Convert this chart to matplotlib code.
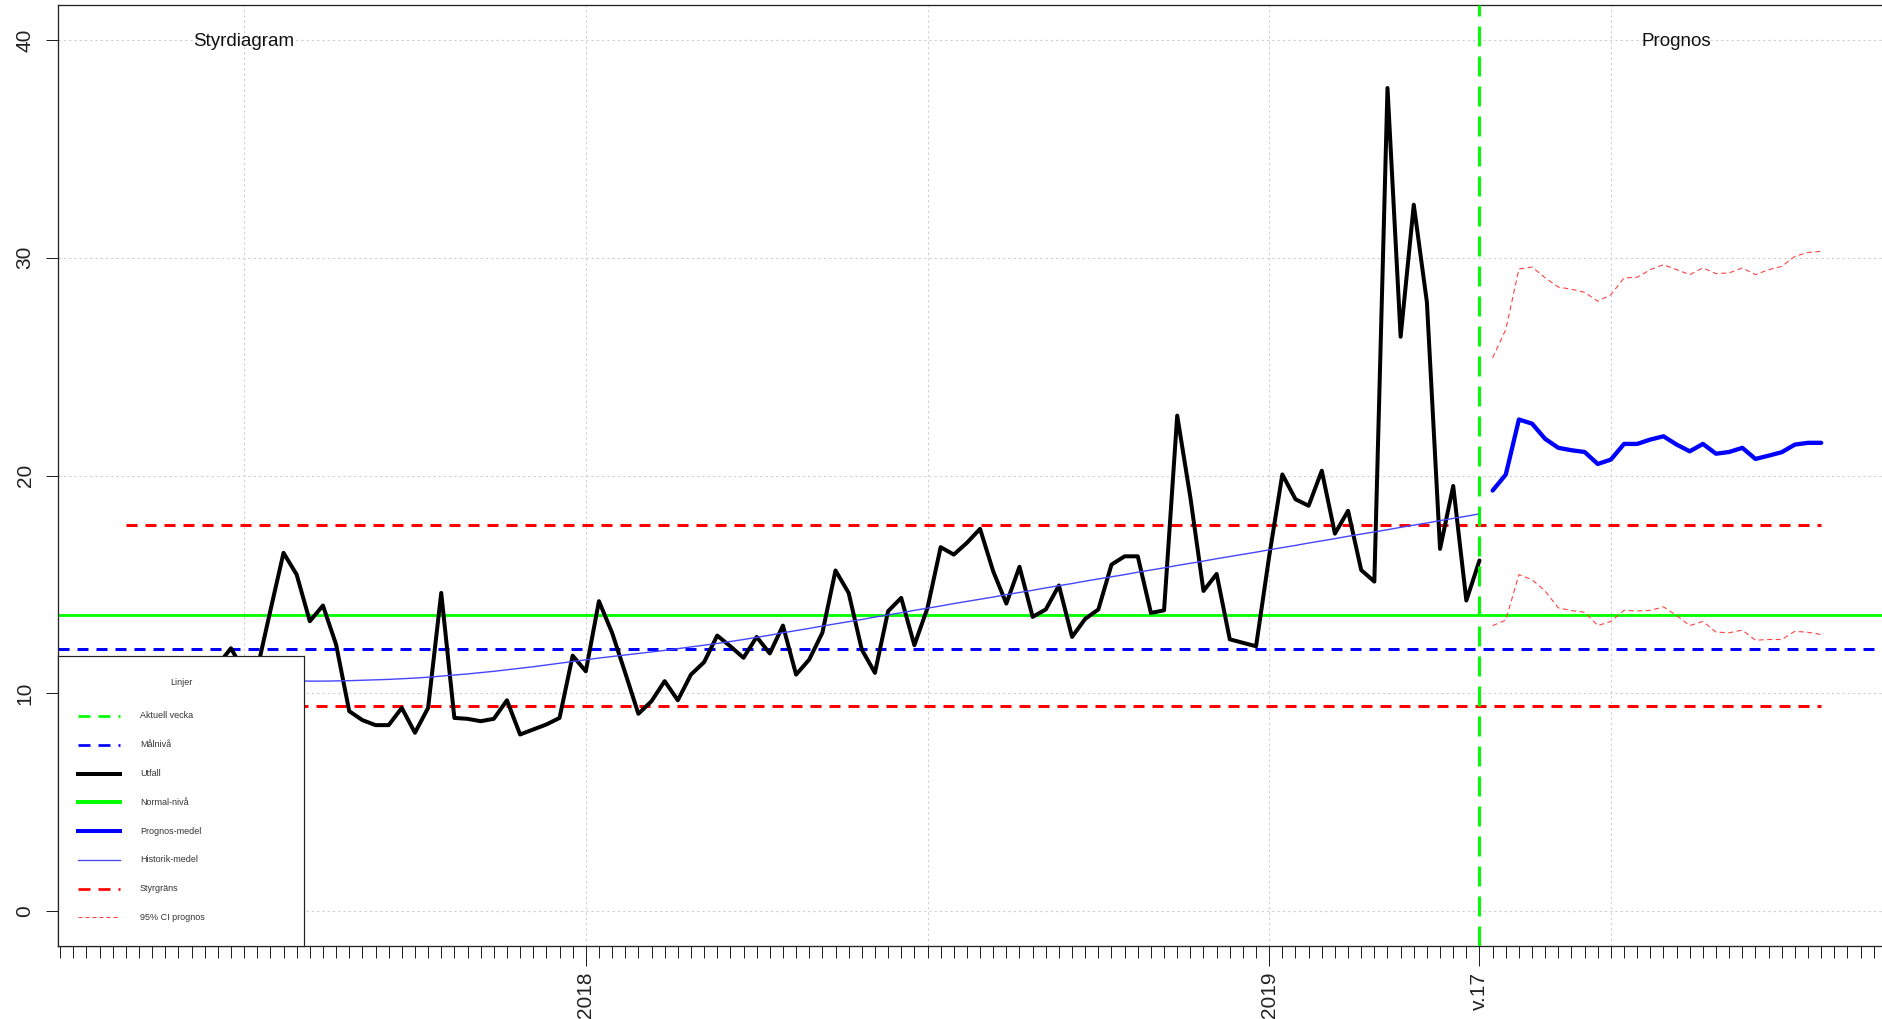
import numpy as np
import matplotlib
matplotlib.use("Agg")
import matplotlib.pyplot as plt

plt.rcParams['font.family'] = ['Liberation Sans', 'DejaVu Sans']
plt.rcParams['lines.scale_dashes'] = False

# ---------------- data (x = week index, 0 = first week of 2019) ----------------
first_week = -87
outcome = [10.6, 11.2, 10.1, 10.8, 11.4, 10.3, 10.9, 11.3, 12.07, 11.0,
           11.1, 13.8, 16.45, 15.45, 13.31, 14.03, 12.24, 9.18, 8.77, 8.54,
           8.54, 9.33, 8.19, 9.33, 14.61, 8.87, 8.83, 8.72, 8.83, 9.68,
           8.11, 8.34, 8.57, 8.87, 11.73, 11.01, 14.23, 12.78, 10.94, 9.06,
           9.64, 10.56, 9.68, 10.86, 11.43, 12.65, 12.16, 11.63, 12.59, 11.83,
           13.11, 10.86, 11.55, 12.78, 15.64, 14.61, 12.01, 10.94, 13.77, 14.38,
           12.21, 13.92, 16.71, 16.37, 16.91, 17.55, 15.60, 14.12, 15.81, 13.51,
           13.85, 14.95, 12.59, 13.42, 13.85, 15.91, 16.29, 16.29, 13.69, 13.81,
           22.75, 19.0, 14.70, 15.48, 12.48, 12.32, 12.16, 16.3, 20.05, 18.91,
           18.61, 20.22, 17.33, 18.38, 15.66, 15.13, 37.79, 26.37, 32.43, 27.95,
           16.63, 19.52, 14.26, 16.10]

hist_mean = [10.80, 10.78, 10.76, 10.74, 10.72, 10.70, 10.68, 10.66, 10.64, 10.62,
             10.60, 10.59, 10.58, 10.57,
             10.56, 10.56, 10.57, 10.58, 10.60, 10.62, 10.64, 10.67, 10.70, 10.74,
             10.79, 10.84, 10.89, 10.95, 11.01, 11.08, 11.15, 11.22, 11.30, 11.38,
             11.46, 11.54, 11.62, 11.69, 11.76, 11.83, 11.90, 11.97, 12.05, 12.13,
             12.21, 12.29, 12.38, 12.47,
             12.57, 12.67, 12.78, 12.88, 12.98, 13.09, 13.19, 13.29, 13.39, 13.50,
             13.60, 13.70, 13.81, 13.91, 14.01, 14.12, 14.22, 14.32, 14.42, 14.53,
             14.63, 14.73, 14.84, 14.94, 15.04, 15.15, 15.25, 15.35, 15.45, 15.56,
             15.66, 15.76, 15.87, 15.97, 16.07, 16.18, 16.28, 16.38, 16.48, 16.59,
             16.69, 16.79, 16.90, 17.00, 17.10, 17.21, 17.31, 17.41, 17.51, 17.62,
             17.72, 17.82, 17.93, 18.03, 18.13, 18.24]

fc_mean = [19.31, 20.04, 22.57, 22.38, 21.68, 21.27, 21.16, 21.08, 20.53, 20.73,
           21.45, 21.45, 21.65, 21.80, 21.42, 21.11, 21.45, 21.00, 21.08, 21.27,
           20.76, 20.91, 21.07, 21.42, 21.50, 21.50]
fc_upper = [25.40, 26.70, 29.48, 29.57, 29.07, 28.65, 28.55, 28.41, 28.00, 28.30,
            29.07, 29.10, 29.45, 29.68, 29.45, 29.22, 29.53, 29.27, 29.30, 29.53,
            29.22, 29.45, 29.60, 30.06, 30.24, 30.29]
fc_lower = [13.11, 13.36, 15.45, 15.22, 14.69, 13.92, 13.80, 13.72, 13.11, 13.30,
            13.81, 13.78, 13.81, 13.97, 13.57, 13.11, 13.30, 12.81, 12.78, 12.90,
            12.44, 12.47, 12.47, 12.85, 12.80, 12.70]

ctrl_upper = 17.72
ctrl_lower = 9.44
target_level = 12.05
normal_level = 13.58
current_week = 16

tick_weeks = [-52, 0, 16]
tick_labels = ["2018", "2019", "v.17"]
grid_weeks = [-78, -52, -26, 0, 26]
y_ticks = [0, 10, 20, 30, 40]
legend_title = "Linjer"
legend_labels = ["Aktuell vecka", "Målnivå", "Utfall", "Normal-nivå",
                 "Prognos-medel", "Historik-medel", "Styrgräns", "95% CI prognos"]

# ---------------- figure ----------------
W, H = 1882, 1019
P = 0.72  # points per pixel (dpi 100)

weeks = np.arange(first_week, first_week + len(outcome))
fc_weeks = np.arange(current_week + 1, current_week + 1 + len(fc_mean))

fig = plt.figure(figsize=(W / 100, H / 100), dpi=100)
ax = fig.add_axes([58 / W, (H - 946) / H, (1889 - 58) / W, (946 - 5) / H])
x_lo, x_hi = weeks[0], fc_weeks[-1]
span = x_hi - x_lo
ax.set_xlim(x_lo - 0.04 * span, x_hi + 0.04 * span)
ax.set_ylim(-1.6, 41.6)

grid_kw = dict(color='#CFCFCF', lw=0.8, dashes=(1.6, 2.2), zorder=1)
for g in grid_weeks:
    ax.axvline(g, **grid_kw)
for y in y_ticks:
    ax.axhline(y, **grid_kw)

dash_thick = (11 * P, 8 * P)
ax.plot([x_lo, x_hi], [ctrl_upper] * 2, color='#FF0000', lw=3 * P, dashes=dash_thick, zorder=2)
ax.plot([x_lo, x_hi], [ctrl_lower] * 2, color='#FF0000', lw=3 * P, dashes=dash_thick, zorder=2)
ax.axhline(target_level, color='#0000FF', lw=3 * P, dashes=dash_thick, zorder=2)
ax.axhline(normal_level, color='#00FF00', lw=2.8 * P, zorder=2)

ax.plot(weeks, outcome, color='black', lw=4 * P, solid_joinstyle='round',
        solid_capstyle='round', zorder=3)
ax.plot(weeks, hist_mean, color='#4646FF', lw=1.4 * P, zorder=4)

ax.plot(fc_weeks, fc_mean, color='#0000FF', lw=4.3 * P, solid_joinstyle='round',
        solid_capstyle='round', zorder=4)
ci_dash = (5 * P, 3.5 * P)
ax.plot(fc_weeks, fc_upper, color='#FF4040', lw=1.1 * P, dashes=ci_dash, zorder=4)
ax.plot(fc_weeks, fc_lower, color='#FF4040', lw=1.1 * P, dashes=ci_dash, zorder=4)

ax.axvline(current_week, color='#00FF00', lw=3 * P, dashes=(20 * P, 10 * P), zorder=5)

ax.text(-78, 40, "Styrdiagram", ha='center', va='center_baseline', fontsize=13.5, color='#111111')
ax.text(31, 40, "Prognos", ha='center', va='center_baseline', fontsize=13.5, color='#111111')

# axes / ticks
for s in ax.spines.values():
    s.set_linewidth(1.3 * P)
    s.set_color('#222222')
ax.set_yticks(y_ticks)
ax.set_yticklabels([str(v) for v in y_ticks], rotation=90, va='center', ha='center')
ax.tick_params(axis='y', length=12 * P, width=1 * P, pad=21 * P, labelsize=15, colors='#222222')
ax.set_xticks(tick_weeks)
ax.set_xticklabels(tick_labels, rotation=90, ha='center', va='top')
ax.set_xticks(np.arange(np.ceil(ax.get_xlim()[0]), np.floor(ax.get_xlim()[1]) + 1), minor=True)
ax.tick_params(axis='x', which='major', length=20 * P, width=1 * P, pad=6 * P, labelsize=15,
               colors='#222222')
ax.tick_params(axis='x', which='minor', length=12 * P, width=1 * P, colors='#222222')

# ---------------- legend (R style box, bottom-left) ----------------
lax = fig.add_axes([58 / W, (H - 946) / H, 246 / W, 290 / H], zorder=10)
lax.set_xlim(0, 246)
lax.set_ylim(290, 0)
lax.set_xticks([])
lax.set_yticks([])
lax.set_facecolor('white')
for s in lax.spines.values():
    s.set_linewidth(1.2 * P)
    s.set_color('#222222')

leg_styles = [
    dict(color='#00FF00', lw=2.7 * P, dashes=(12 * P, 8 * P)),
    dict(color='#0000FF', lw=2.7 * P, dashes=(12 * P, 8 * P)),
    dict(color='black', lw=4 * P),
    dict(color='#00FF00', lw=4 * P),
    dict(color='#0000FF', lw=4 * P),
    dict(color='#4646FF', lw=1.3 * P),
    dict(color='#FF0000', lw=2.7 * P, dashes=(12 * P, 8 * P)),
    dict(color='#FF4040', lw=1.0 * P, dashes=(4 * P, 3 * P)),
]
lax.text(123, 26.7, legend_title, ha='center', va='center', fontsize=6.5, color='#333333')
for i, (lab, st) in enumerate(zip(legend_labels, leg_styles)):
    yy = 60 + 28.75 * i
    lax.plot([19.7, 62], [yy, yy], **st)
    lax.text(82, yy, lab, ha='left', va='center', fontsize=6.5, color='#333333')

fig.savefig("out.png", dpi=100)
